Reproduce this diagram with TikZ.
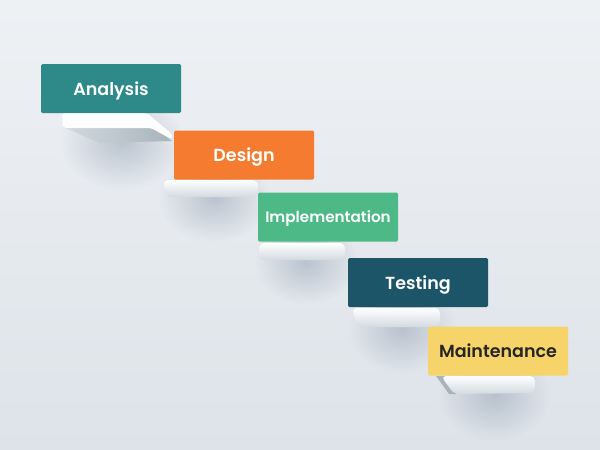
\documentclass[tikz,border=0pt]{standalone}
\usepackage{fontspec}
\newfontfamily\stagefont{Poppins}[UprightFont={* SemiBold}]
\usetikzlibrary{calc,fadings}

\definecolor{bgtop}{HTML}{EEF1F4}
\definecolor{bgbot}{HTML}{DEE3E9}
\definecolor{cAnalysis}{HTML}{2E8A89}
\definecolor{cDesign}{HTML}{F47B2F}
\definecolor{cImpl}{HTML}{4DB987}
\definecolor{cTest}{HTML}{1C5567}
\definecolor{cMaint}{HTML}{F7D46A}
\definecolor{shelfside}{HTML}{D3DAE0}
\definecolor{shelfunder}{HTML}{A8B4BA}
\definecolor{shadowc}{HTML}{9DAABA}

\tikzfading[name=blob,inner color=transparent!40,outer color=transparent!100]

\begin{document}
\begin{tikzpicture}[x=1pt,y=-1pt,
  stage/.style={rectangle,rounded corners=1.5pt,minimum width=140pt,minimum height=49pt,
    inner sep=0pt,text depth=0pt,text=white,font=\stagefont\fontsize{17.5}{20}\selectfont},
  shelftop/.style={fill=white},
  shelffront/.style={top color=white,bottom color=shelfside}]
  % background
  \useasboundingbox (0,0) rectangle (600,450);
  \shade[top color=bgtop,bottom color=bgbot] (0,0) rectangle (600,450);
  % soft shadows under the shelves
  \foreach \cx/\cy/\rx/\ry in {122/142/62/48, 214/198/56/44, 306/262/52/42, 402/329/54/44, 494/395/56/46}
    \fill[shadowc,path fading=blob,fit fading=true]
      ({\cx-\rx},{\cy-\ry}) rectangle ({\cx+\rx},{\cy+\ry});
  % shelf 1
  \shade[left color=shelfside,right color=shelfunder] (63,127) -- (154,127) -- (172,141) -- (100,143) -- cycle;
  \fill[shelftop,rounded corners=3pt] (62,113) -- (147,113) -- (173,135) -- (171,139) -- (151,128) -- (63,128) -- cycle;
  % shelf 2
  \shade[shelffront,rounded corners=6pt] (163,180) -- (258,180) -- (258,197) -- (165,197) -- cycle;
  % shelf 3
  \shade[shelffront,rounded corners=6pt] (259,243) rectangle (345,260);
  % shelf 4
  \shade[shelffront,rounded corners=5pt] (352,308) -- (440,308) -- (440,327) -- (357,327) -- cycle;
  % shelf 5
  \fill[shelfunder] (436,376) -- (446,376) -- (456,394) -- (449,394) -- cycle;
  \shade[shelffront,rounded corners=5pt] (441,376) -- (535,376) -- (535,393) -- (454,394) -- cycle;
  % stages
  \node[stage,fill=cAnalysis] (analysis) at (111,88.5) {Analysis};
  \node[stage,fill=cDesign] (design) at (244,155) {Design};
  \node[stage,fill=cImpl,font=\stagefont\fontsize{15.2}{17}\selectfont] (impl) at (328,217) {Implementation};
  \node[stage,fill=cTest] (testing) at (418,282.5) {Testing};
  \node[stage,fill=cMaint,text=black!85] (maint) at (498,351) {Maintenance};
\end{tikzpicture}
\end{document}
